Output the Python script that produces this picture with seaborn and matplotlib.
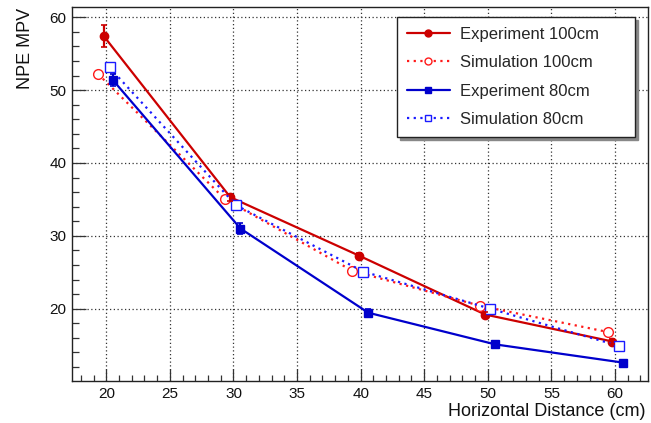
import numpy as np
import pandas as pd
import matplotlib
matplotlib.use("Agg")
import matplotlib.pyplot as plt
from matplotlib.ticker import MultipleLocator, FixedLocator
import seaborn as sns

# ---- data ----
exp100_x = [19.8, 29.75, 39.85, 49.8, 59.8]
exp100_y = [57.4, 35.3, 27.3, 19.2, 15.5]
exp100_err = [1.5, 0.5, 0.4, 0.4, 0.3]

sim100_x = [19.35, 29.35, 39.35, 49.4, 59.45]
sim100_y = [52.2, 35.0, 25.2, 20.4, 16.8]

exp80_x = [20.5, 30.55, 40.6, 50.6, 60.65]
exp80_y = [51.4, 31.0, 19.45, 15.1, 12.6]
exp80_err = [0.8, 0.7, 0.5, 0.3, 0.3]

sim80_x = [20.25, 30.2, 40.2, 50.2, 60.3]
sim80_y = [53.1, 34.2, 25.1, 20.0, 14.9]

labels = ["Experiment 100cm", "Simulation 100cm", "Experiment 80cm", "Simulation 80cm"]

x_ticks = [20, 25, 30, 35, 40, 45, 50, 55, 60]
y_ticks = [20, 30, 40, 50, 60]

sns.set_theme(style="white")
plt.rcParams["font.family"] = ["Liberation Sans", "DejaVu Sans"]

W, H = 651, 423
fig = plt.figure(figsize=(W / 100, H / 100), dpi=100)
ax_l, ax_b, ax_w, ax_h = 72, 381, 576, 374
ax = fig.add_axes([ax_l / W, 1 - ax_b / H, ax_w / W, ax_h / H])

frames = []
for lab, xs, ys in zip(labels,
                       [exp100_x, sim100_x, exp80_x, sim80_x],
                       [exp100_y, sim100_y, exp80_y, sim80_y]):
    frames.append(pd.DataFrame({"x": xs, "y": ys, "series": lab}))
df = pd.concat(frames, ignore_index=True)

styles = {
    "Experiment 100cm": dict(color="#cc0000", ls="-", marker="o", mfc="#cc0000", ms=6),
    "Simulation 100cm": dict(color="#ff1a1a", ls=(0, (1, 2)), marker="o", mfc="white", ms=7),
    "Experiment 80cm": dict(color="#0000cc", ls="-", marker="s", mfc="#0000cc", ms=6),
    "Simulation 80cm": dict(color="#1a1aff", ls=(0, (1, 2)), marker="s", mfc="white", ms=6.5),
}

for lab in labels:
    st = styles[lab]
    sub = df[df["series"] == lab]
    sns.lineplot(data=sub, x="x", y="y", ax=ax, color=st["color"], linestyle=st["ls"],
                 linewidth=1.6, marker=st["marker"], markersize=st["ms"],
                 markerfacecolor=st["mfc"], markeredgecolor=st["color"],
                 markeredgewidth=1.0, label=lab, sort=False, errorbar=None, zorder=3)

ax.errorbar(exp100_x, exp100_y, yerr=exp100_err, fmt="none", ecolor="#cc0000",
            elinewidth=1.6, capsize=2.5, capthick=1.2, zorder=4)
ax.errorbar(exp80_x, exp80_y, yerr=exp80_err, fmt="none", ecolor="#0000cc",
            elinewidth=1.6, capsize=2.5, capthick=1.2, zorder=4)

ax.set_xlim(17.3, 62.6)
ax.set_ylim(10.08, 61.4)
ax.xaxis.set_major_locator(FixedLocator(x_ticks))
ax.yaxis.set_major_locator(FixedLocator(y_ticks))
ax.xaxis.set_minor_locator(MultipleLocator(1))
ax.yaxis.set_minor_locator(MultipleLocator(2))

ax.grid(True, which="major", linestyle=(0, (1, 2)), color="#333333", linewidth=0.9)
ax.set_axisbelow(True)

ax.tick_params(axis="x", which="major", direction="in", length=8.8, width=0.9,
               color="#333333", labelsize=11, pad=4, labelcolor="#111111",
               bottom=True, top=False)
ax.tick_params(axis="x", which="minor", direction="in", length=4.6, width=0.9,
               color="#333333", bottom=True, top=False)
ax.tick_params(axis="y", which="major", direction="in", length=10, width=0.9,
               color="#333333", labelsize=11, pad=4, labelcolor="#111111",
               left=True, right=False)
ax.tick_params(axis="y", which="minor", direction="in", length=5, width=0.9,
               color="#333333", left=True, right=False)

for sp in ax.spines.values():
    sp.set_visible(True)
    sp.set_color("#222222")
    sp.set_linewidth(1.0)

ax.set_xlabel("")
ax.set_ylabel("")
fig.text(645 / W, 1 - 415.5 / H, "Horizontal Distance (cm)", ha="right", va="baseline",
         fontsize=13, color="#111111")
fig.text(25 / W, 1 - 8 / H, "NPE MPV", ha="center", va="top", rotation=90,
         fontsize=13, color="#111111")

# legend box in reference pixels: x 397..635, y 17..132
lx0 = (397 - ax_l) / ax_w
lx1 = (635 - ax_l) / ax_w
ly_top = 1 - (17 - 7) / ax_h
leg = ax.legend(loc="upper left", bbox_to_anchor=(lx0, ly_top - 0.3, lx1 - lx0, 0.3),
                mode="expand", fontsize=12,
                frameon=True, fancybox=False, shadow={"color": "#888888", "alpha": 1.0},
                edgecolor="#222222", handlelength=2.55, handletextpad=0.6,
                labelspacing=0.8, borderpad=0.6, borderaxespad=0)
# mode='expand' anchors to bottom of bbox when loc='upper left' is combined; recompute
leg.get_frame().set_linewidth(1.0)
leg.get_frame().set_facecolor("white")
for h in leg.legend_handles:
    h.set_markersize(5)

fig.savefig("out.png", dpi=100)
